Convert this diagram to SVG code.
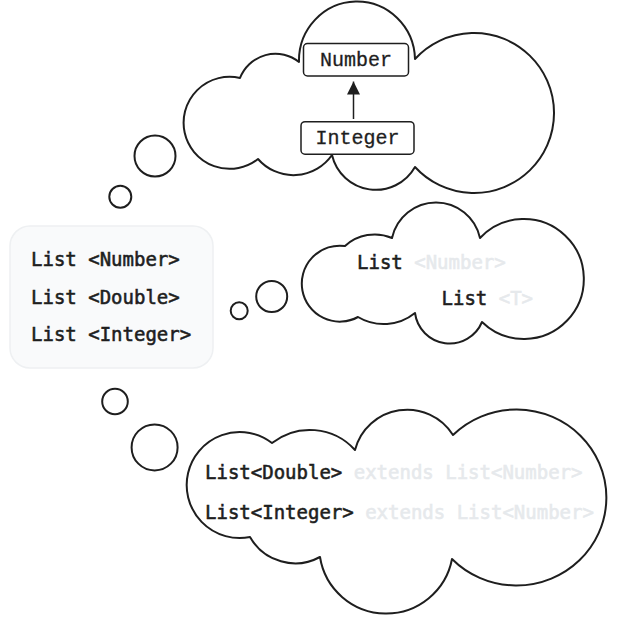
<svg xmlns="http://www.w3.org/2000/svg" width="617" height="625" viewBox="0 0 617 625">
  <style>
    .cloud { fill: #ffffff; stroke: #1e1e1e; stroke-width: 2; stroke-linejoin: round; }
    .bubble { fill: #ffffff; stroke: #1e1e1e; stroke-width: 2; }
    .box { fill: #ffffff; stroke: #1e1e1e; stroke-width: 1.5; }
    .serif { font-family: "Liberation Mono", "DejaVu Sans Mono", monospace; font-size: 20px; fill: #1e1e1e; stroke: #1e1e1e; stroke-width: 0.3; }
    .code { font-family: "DejaVu Sans Mono", "Liberation Mono", monospace; font-size: 19px; fill: #1e1e1e; stroke: #1e1e1e; stroke-width: 0.55; }
    .dim { fill: #e6e9ec; stroke: #e6e9ec; }
  </style>
  <defs>
    <marker id="tri" viewBox="0 0 13 13" refX="13" refY="6.5" markerWidth="13" markerHeight="13" markerUnits="userSpaceOnUse" orient="auto">
      <path d="M0,0 L13,6.5 L0,13 Z" fill="#1e1e1e"/>
    </marker>
  </defs>

  <!-- thought bubbles -->
  <g id="bubbles">
    <circle class="bubble" cx="155" cy="156" r="20.5"/>
    <circle class="bubble" cx="120.3" cy="196.7" r="11"/>
    <circle class="bubble" cx="239.2" cy="310.8" r="8.5"/>
    <circle class="bubble" cx="271.7" cy="296.5" r="15.5"/>
    <circle class="bubble" cx="115" cy="401.5" r="12.8"/>
    <circle class="bubble" cx="154.6" cy="447.4" r="23"/>
  </g>

  <!-- top cloud -->
  <g id="cloud-top">
    <path class="cloud" d="M 299 62 A 58 59 0 0 1 415 59 A 80 80 0 1 1 415 167 A 45 45 0 0 1 332 155 A 47 47 0 0 1 258 159 A 46 46 0 1 1 240 78 A 38 38 0 0 1 299 62 Z"/>
  </g>
  <g id="node-number">
    <rect class="box" x="303.5" y="43.5" width="105" height="32.5" rx="4"/>
    <text class="serif" x="356" y="66" text-anchor="middle">Number</text>
  </g>
  <g id="node-integer">
    <rect class="box" x="301" y="121.7" width="113" height="32.5" rx="4"/>
    <text class="serif" x="357.5" y="144" text-anchor="middle">Integer</text>
  </g>

  <!-- left box -->
  <g id="node-lists">
    <rect x="10" y="226" width="203" height="142" rx="20" fill="#f9fafb" stroke="#eef0f2" stroke-width="1.5"/>
    <text class="code" x="31" y="266">List &lt;Number&gt;</text>
    <text class="code" x="31" y="303.5">List &lt;Double&gt;</text>
    <text class="code" x="31" y="340.5">List &lt;Integer&gt;</text>
  </g>

  <!-- middle cloud -->
  <g id="cloud-middle">
    <path class="cloud" d="M 345 246 A 44 44 0 0 1 392 238 A 45 45 0 0 1 480 238 A 60 60 0 1 1 482 322 A 35 35 0 0 1 415 313 A 50 50 0 0 1 358 317 A 38 38 0 1 1 345 246 Z"/>
    <text class="code" x="357" y="269">List <tspan class="dim">&lt;Number&gt;</tspan></text>
    <text class="code" x="441.5" y="305">List <tspan class="dim">&lt;T&gt;</tspan></text>
  </g>

  <!-- bottom cloud -->
  <g id="cloud-bottom">
    <path class="cloud" d="M 272 443 A 61 61 0 0 1 355 450 A 54 54 0 0 1 453 435 A 90 88 0 1 1 452 559 A 67 67 0 0 1 320 557 A 52 52 0 0 1 250 537 A 53 53 0 1 1 272 443 Z"/>
    <text class="code" x="205" y="479">List&lt;Double&gt; <tspan class="dim">extends List&lt;Number&gt;</tspan></text>
    <text class="code" x="205" y="518.5">List&lt;Integer&gt; <tspan class="dim">extends List&lt;Number&gt;</tspan></text>
  </g>

  <!-- connectors -->
  <g id="connectors">
    <line x1="353.5" y1="119" x2="353.5" y2="81.5" stroke="#1e1e1e" stroke-width="1.5" marker-end="url(#tri)"/>
  </g>
</svg>
